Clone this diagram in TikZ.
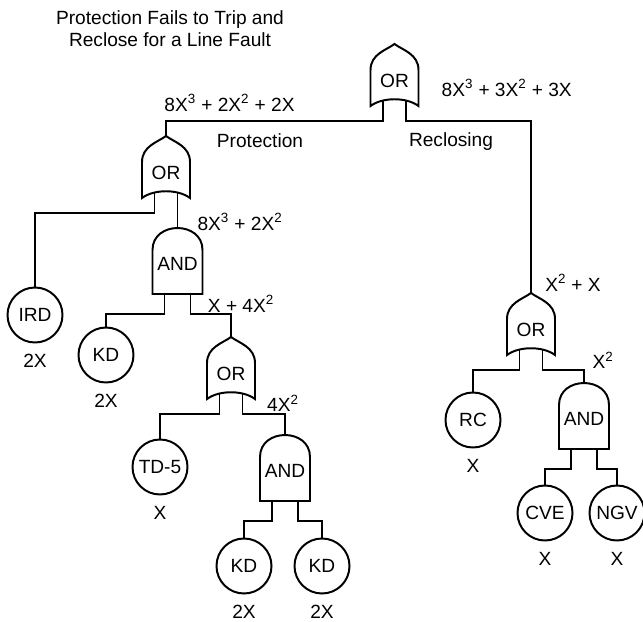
\documentclass[tikz,border=0pt]{standalone}
\usepackage{fontspec}
\setmainfont{Liberation Sans}
\usetikzlibrary{positioning}

\begin{document}
\begin{tikzpicture}[x=0.025cm, y=-0.025cm, line width=1.4pt,
  font=\fontsize{13.6}{15.6}\selectfont,
  event/.style={circle, draw, minimum size=1.375cm, inner sep=0pt},
  prob/.style={inner sep=0.5pt, below=0.23cm of #1},
  orgate/.pic={
    \draw (0,0) .. controls (8,6) and (24,10) .. (24,26) -- (24,62)
      .. controls (12,53) and (-12,53) .. (-24,62) -- (-24,26)
      .. controls (-24,10) and (-8,6) .. cycle;
    \node (-t) at (0,37) {OR};
    \coordinate (-top) at (0,0);
    \coordinate (-l) at (-11.5,56.5);
    \coordinate (-r) at (11.5,56.5);
    \coordinate (-lo) at (-11.5,77);
    \coordinate (-ro) at (11.5,77);
  },
  andgate/.pic={
    \draw (-25,66) -- (-25,22) .. controls (-25,-7.3) and (25,-7.3) .. (25,22)
      -- (25,66) -- cycle;
    \node (-t) at (0,36) {AND};
    \coordinate (-top) at (0,0);
    \coordinate (-l) at (-13,66);
    \coordinate (-r) at (13,66);
    \coordinate (-lo) at (-13,86);
    \coordinate (-ro) at (13,86);
  }]
  \useasboundingbox (0,0) rectangle (643,622);

  % title
  \node[align=center] (title) at (170,29) {Protection Fails to Trip and\\Reclose for a Line Fault};

  % gates
  \pic (topor) at (394.5,44) {orgate};
  \pic (lor) at (166,136) {orgate};
  \pic (land) at (177.5,228) {andgate};
  \pic (mor) at (231,337) {orgate};
  \pic (mand) at (285,435) {andgate};
  \pic (ror) at (531,293) {orgate};
  \pic (rand) at (584,383) {andgate};

  % basic events
  \node[event] (ird) at (35,315) {IRD};
  \node[event] (kdA) at (106,355) {KD};
  \node[event] (td) at (160,467) {TD-5};
  \node[event] (kdB) at (244,566) {KD};
  \node[event] (kdC) at (322,566) {KD};
  \node[event] (rc) at (473,420) {RC};
  \node[event] (cve) at (545,513) {CVE};
  \node[event] (ngv) at (617,513) {NGV};

  \node[prob=ird] (irdp) {2X};
  \node[prob=kdA] (kdAp) {2X};
  \node[prob=td] (tdp) {X};
  \node[prob=kdB] (kdBp) {2X};
  \node[prob=kdC] (kdCp) {2X};
  \node[prob=rc] (rcp) {X};
  \node[prob=cve] (cvep) {X};
  \node[prob=ngv] (ngvp) {X};

  % connectors
  \draw (topor-l) -- (topor-lo) -| (lor-top);
  \draw (topor-r) -- (topor-ro) -| (ror-top);
  \draw (lor-l) -- (lor-lo) -| (ird.north);
  \draw (lor-r) -- (lor-ro) -| (land-top);
  \draw (land-l) -- (land-lo) -| (kdA.north);
  \draw (land-r) -- (land-ro) -| (mor-top);
  \draw (mor-l) -- (mor-lo) -| (td.north);
  \draw (mor-r) -- (mor-ro) -| (mand-top);
  \draw (mand-l) -- (mand-lo) -| (kdB.north);
  \draw (mand-r) -- (mand-ro) -| (kdC.north);
  \draw (ror-l) -- (ror-lo) -| (rc.north);
  \draw (ror-r) -- (ror-ro) -| (rand-top);
  \draw (rand-l) -- (rand-lo) -| (cve.north);
  \draw (rand-r) -- (rand-ro) -| (ngv.north);

  % probabilities
  \node (pv) at (229.5,103) {8X\textsuperscript{3} + 2X\textsuperscript{2} + 2X};
  \node[anchor=west] (rv) at (436,88) {8X\textsuperscript{3} + 3X\textsuperscript{2} + 3X};
  \node (prot) at (260,141) {Protection};
  \node (recl) at (451,142) {Reclosing};
  \node (landv) at (240,222) {8X\textsuperscript{3} + 2X\textsuperscript{2}};
  \node (morv) at (241,304) {X + 4X\textsuperscript{2}};
  \node (mandv) at (283,403) {4X\textsuperscript{2}};
  \node (rorv) at (573,283) {X\textsuperscript{2} + X};
  \node (randv) at (603,360) {X\textsuperscript{2}};
\end{tikzpicture}
\end{document}
